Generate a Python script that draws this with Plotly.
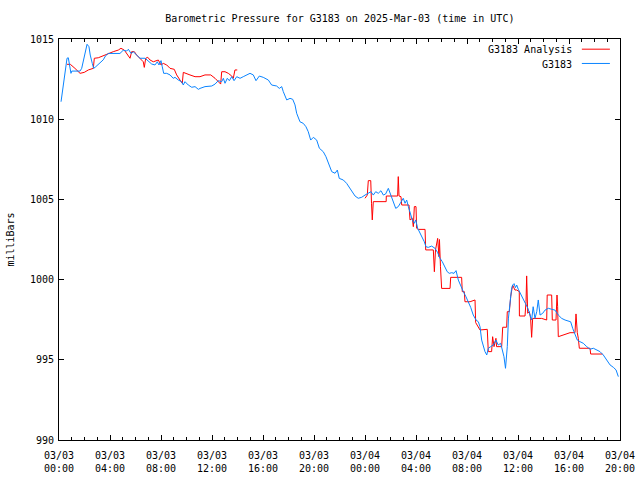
import pandas as pd
import plotly.graph_objects as go

START = pd.Timestamp("2025-03-03 00:00")

# G3183 observed pressure: hours since 2025-03-03 00:00 UTC, millibars
obs_hours = [0.16, 0.63, 0.73, 0.94, 1.0, 1.25, 1.65, 1.78, 1.98, 2.2, 2.35, 2.45, 2.61, 2.72,
             2.88, 3.08, 3.29, 3.47, 3.66, 3.87, 4.78, 5.04, 5.31, 5.44, 5.65, 5.83, 6.09, 6.35,
             6.75, 7.0, 7.27, 7.53, 7.71, 7.84, 8.0, 8.1, 8.21, 8.45, 8.71, 8.96, 9.1, 9.36, 9.62,
             9.75, 9.88, 10.14, 10.41, 10.67, 10.93, 11.06, 11.45, 11.98, 12.24, 12.49, 12.76,
             12.89, 13.02, 13.2, 13.36, 13.55, 13.73, 13.94, 14.2, 14.45, 14.72, 14.98, 15.24,
             15.45, 15.71, 16.02, 16.42, 16.68, 17.07, 17.28, 17.47, 17.59, 17.86, 18.12, 18.33,
             18.51, 18.64, 18.9, 19.16, 19.37, 19.55, 19.74, 19.95, 20.21, 20.42, 20.73, 20.94,
             21.12, 21.39, 21.65, 21.83, 21.98, 22.3, 22.56, 22.77, 22.96, 23.22, 23.47, 23.74,
             24.0, 24.26, 24.47, 24.65, 24.84, 25.04, 25.25, 25.44, 25.62, 25.83, 25.96, 26.09,
             26.22, 26.41, 26.61, 26.82, 27.0, 27.14, 27.27, 27.4, 27.53, 27.71, 27.87, 27.98,
             28.13, 28.31, 28.49, 28.65, 28.78, 28.96, 29.23, 29.49, 29.7, 29.88, 30.06, 30.27,
             30.45, 30.61, 30.8, 30.98, 31.14, 31.32, 31.51, 31.71, 31.92, 32.1, 32.29, 32.49,
             32.71, 32.89, 33.02, 33.15, 33.28, 33.41, 33.55, 33.67, 33.86, 34.06, 34.27, 34.45,
             34.64, 34.8, 34.9, 35.02, 35.16, 35.25, 35.37, 35.49, 35.58, 35.69, 35.8, 35.9,
             36.02, 36.2, 36.39, 36.59, 36.78, 36.94, 37.07, 37.19, 37.33, 37.47, 37.59, 37.73,
             37.94, 38.12, 38.38, 38.64, 38.9, 39.16, 39.43, 39.69, 39.95, 40.13, 40.29, 40.47,
             40.65, 40.86, 41.12, 41.39, 41.65, 41.91, 42.17, 42.43, 42.69, 42.96, 43.22, 43.48,
             43.69, 43.87]
obs_mb = [1011.09, 1013.8, 1013.83, 1012.86, 1013.0, 1013.0, 1013.0, 1013.17, 1014.0, 1014.67,
          1014.52, 1014.0, 1013.48, 1013.17, 1013.27, 1013.42, 1013.55, 1013.7, 1013.96, 1014.1,
          1014.1, 1014.3, 1014.25, 1014.36, 1014.1, 1014.2, 1014.0, 1013.8, 1013.8, 1013.65,
          1013.44, 1013.38, 1013.58, 1013.38, 1013.65, 1013.27, 1012.86, 1012.86, 1012.76,
          1012.55, 1012.61, 1012.44, 1012.34, 1012.13, 1012.34, 1012.13, 1011.99, 1012.03,
          1011.86, 1011.92, 1012.03, 1012.07, 1012.19, 1012.4, 1012.34, 1012.55, 1012.24,
          1012.55, 1012.4, 1012.65, 1012.4, 1012.65, 1012.55, 1012.65, 1012.76, 1012.86,
          1012.76, 1012.4, 1012.69, 1012.61, 1012.44, 1012.13, 1012.07, 1011.92, 1012.03,
          1011.72, 1011.2, 1011.3, 1011.24, 1010.89, 1010.37, 1009.84, 1009.74, 1009.53,
          1009.22, 1008.7, 1008.87, 1008.7, 1008.19, 1007.97, 1007.66, 1007.25, 1006.73,
          1006.63, 1006.83, 1006.31, 1006.21, 1006.0, 1005.75, 1005.59, 1005.21, 1005.07,
          1005.13, 1005.27, 1005.38, 1005.48, 1005.27, 1005.48, 1005.38, 1005.54, 1005.27,
          1005.34, 1005.69, 1005.38, 1005.17, 1004.86, 1004.44, 1004.55, 1004.86, 1005.07,
          1004.76, 1004.96, 1004.55, 1004.13, 1003.72, 1003.51, 1003.72, 1003.2, 1002.89,
          1002.68, 1002.36, 1002.05, 1002.01, 1002.09, 1001.95, 1001.68, 1001.33, 1001.12,
          1000.8, 1000.49, 1000.39, 1000.43, 1000.39, 1000.56, 999.97, 999.56, 999.25, 998.93,
          998.62, 998.27, 997.79, 997.48, 997.37, 997.06, 996.23, 995.82, 995.51, 995.3,
          995.72, 995.82, 995.92, 996.23, 995.92, 996.03, 995.5, 995.19, 994.47, 995.82, 997.6,
          998.7, 999.4, 999.66, 999.75, 999.5, 999.66, 999.4, 999.14, 998.8, 998.5, 998.2,
          997.79, 997.48, 998.31, 997.58, 998.0, 998.73, 997.79, 997.9, 998.1, 998.21, 998.15,
          998.1, 997.79, 997.58, 997.48, 997.44, 997.37, 996.96, 996.55, 996.23, 996.13,
          996.03, 995.82, 995.66, 995.72, 995.61, 995.51, 995.3, 994.99, 994.68, 994.53,
          994.37, 993.95]

# G3183 Analysis, first block (03/03)
ana1_hours = [0.63, 0.89, 1.25, 1.65, 1.98, 2.3, 2.69, 2.77, 3.08, 3.47, 3.87, 4.26, 4.65, 4.86,
              5.12, 5.31, 5.57, 5.7, 5.91, 6.09, 6.35, 6.61, 6.69, 6.8, 6.96, 7.14, 7.4, 7.66,
              7.79, 8.0, 8.18, 8.45, 8.71, 9.04, 9.23, 9.49, 9.67, 9.75, 10.01, 10.27, 10.67,
              11.06, 11.45, 11.9, 12.24, 12.49, 12.68, 12.76, 13.02, 13.28, 13.55, 13.67, 13.8,
              13.98]
ana1_mb = [1013.42, 1013.42, 1013.17, 1012.86, 1012.92, 1013.07, 1013.17, 1013.8, 1013.83,
           1013.96, 1014.11, 1014.21, 1014.31, 1014.42, 1014.31, 1014.11, 1013.8, 1014.21,
           1014.21, 1014.0, 1013.8, 1013.58, 1013.23, 1013.8, 1013.86, 1013.69, 1013.58,
           1013.65, 1013.69, 1013.38, 1013.48, 1013.38, 1013.17, 1013.11, 1012.76, 1012.44,
           1012.24, 1012.92, 1012.86, 1012.76, 1012.65, 1012.65, 1012.76, 1012.76, 1012.55,
           1012.34, 1012.19, 1012.96, 1012.96, 1012.86, 1012.69, 1012.55, 1013.07, 1013.07]

# G3183 Analysis, second block (03/04)
ana2_hours = [24.0, 24.18, 24.26, 24.45, 24.51, 24.57, 24.65, 25.66, 25.67, 26.56, 26.61, 26.67,
              26.82, 26.88, 27.45, 27.53, 27.71, 27.79, 27.87, 28.0, 28.05, 28.18, 28.71, 28.76,
              29.36, 29.44, 29.53, 29.7, 29.8, 29.84, 29.92, 30.01, 30.67, 30.72, 31.58, 31.63,
              31.79, 31.84, 32.24, 32.63, 32.68, 33.02, 33.59, 33.67, 33.93, 34.01, 34.12, 34.27,
              34.32, 34.72, 34.8, 35.11, 35.16, 35.32, 35.43, 35.58, 35.76, 35.9, 36.1, 36.11,
              36.55, 36.63, 36.68, 36.76, 36.89, 36.99, 37.07, 37.15, 37.86, 38.25, 38.29, 38.64,
              38.69, 38.98, 39.06, 39.11, 39.16, 39.82, 40.08, 40.47, 40.55, 40.65, 40.73, 40.81,
              41.65, 41.7, 42.63]
ana2_mb = [1005.07, 1005.27, 1006.17, 1006.17, 1004.76, 1003.72, 1004.86, 1004.86, 1005.21,
           1005.21, 1006.42, 1005.21, 1005.17, 1004.65, 1004.65, 1003.72, 1003.82, 1003.3,
           1004.55, 1004.55, 1003.2, 1003.13, 1003.13, 1001.85, 1001.85, 1000.49, 1001.85,
           1002.57, 1001.43, 1002.5, 1000.8, 999.45, 999.45, 1000.14, 1000.14, 999.25, 999.25,
           998.62, 998.62, 998.73, 997.32, 996.86, 996.9, 995.51, 995.51, 996.44, 995.82,
           996.34, 995.82, 995.82, 997.03, 997.03, 998.0, 998.0, 998.96, 999.66, 999.35,
           999.35, 999.25, 997.73, 997.73, 998.62, 1000.23, 997.9, 998.0, 997.58, 996.4,
           997.58, 997.58, 997.48, 999.04, 999.04, 997.48, 997.48, 999.04, 998.31, 996.44,
           996.6, 996.69, 996.69, 997.86, 996.69, 996.34, 995.72, 995.72, 995.36, 995.36]

TITLE = "Barometric Pressure for G3183 on 2025-Mar-03 (time in UTC)"
Y_TITLE = "milliBars"
LEGEND_NAMES = ["G3183 Analysis", "G3183"]
COLORS = ["#ff0000", "#0a84ff"]
FONT = "DejaVu Sans Mono"
FS = 10


def to_time(hours):
    return [START + pd.Timedelta(hours=h) for h in hours]


ana_x = to_time(ana1_hours) + [None] + to_time(ana2_hours)
ana_y = ana1_mb + [None] + ana2_mb

fig = go.Figure()
fig.add_trace(go.Scatter(x=ana_x, y=ana_y, mode="lines", name=LEGEND_NAMES[0],
                         line=dict(color=COLORS[0], width=1), connectgaps=False,
                         showlegend=False))
fig.add_trace(go.Scatter(x=to_time(obs_hours), y=obs_mb, mode="lines", name=LEGEND_NAMES[1],
                         line=dict(color=COLORS[1], width=1), showlegend=False))

# legend drawn gnuplot-style: text right-aligned, line sample to the right
leg_y = [0.9726, 0.937]
for name, color, yy in zip(LEGEND_NAMES, COLORS, leg_y):
    fig.add_annotation(text=name, x=0.918, y=yy, xref="paper", yref="paper",
                       xanchor="right", yanchor="middle", showarrow=False,
                       font=dict(family=FONT, size=FS, color="black"))
    fig.add_shape(type="line", xref="paper", yref="paper", x0=0.932, x1=0.982,
                  y0=yy + 0.002, y1=yy + 0.002, line=dict(color=color, width=1))

fig.update_layout(
    width=640, height=480,
    margin=dict(l=59, r=20, t=39, b=40, autoexpand=False),
    paper_bgcolor="white", plot_bgcolor="white",
    font=dict(family=FONT, size=FS, color="black"),
    title=dict(text=TITLE, x=0.531, xanchor="center", y=0.962, yanchor="middle",
               font=dict(family=FONT, size=FS)),
)
fig.update_xaxes(
    type="date", automargin=False,
    range=[START, START + pd.Timedelta(hours=44)],
    tickmode="linear", tick0=START, dtick=4 * 3600000,
    tickformat="%m/%d<br>%H:%M",
    ticks="inside", ticklen=5, tickcolor="black", tickwidth=1,
    ticklabelstandoff=6,
    minor=dict(ticks="inside", dtick=3600000, tick0=START, ticklen=3,
               tickcolor="black", tickwidth=1, showgrid=False),
    showline=True, linecolor="black", linewidth=1, mirror="ticks",
    showgrid=False, zeroline=False,
    tickfont=dict(family=FONT, size=FS),
)
fig.update_yaxes(
    automargin=False,
    range=[990, 1015], tickmode="linear", tick0=990, dtick=5,
    ticks="inside", ticklen=5, tickcolor="black", tickwidth=1,
    ticklabelstandoff=2,
    showline=True, linecolor="black", linewidth=1, mirror="ticks",
    showgrid=False, zeroline=False,
    title=dict(text=Y_TITLE, font=dict(family=FONT, size=FS), standoff=13),
    tickfont=dict(family=FONT, size=FS),
)

fig.write_html("out.html")
